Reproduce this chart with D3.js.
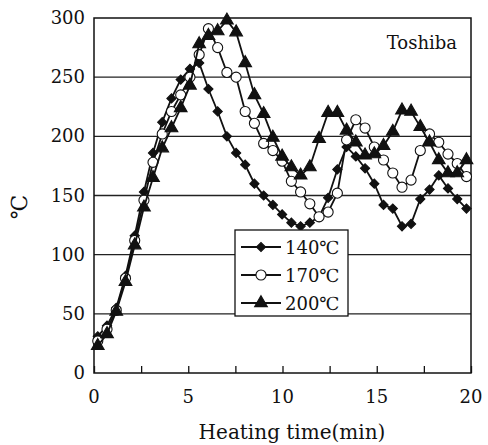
<!DOCTYPE html>
<html>
<head>
<meta charset="utf-8">
<script src="https://cdn.jsdelivr.net/npm/d3@7"></script>
<style>
  body { margin: 0; background: #fff; }
  svg { display: block; }
  svg text { font-family: "DejaVu Serif", "Liberation Serif", serif; }
</style>
</head>
<body>
<div id="chart"></div>
<script>
// sampling times (min)
const times = [0.2, 0.69, 1.18, 1.67, 2.16, 2.65, 3.13, 3.62, 4.11, 4.6, 5.09, 5.58, 6.07, 6.56, 7.05, 7.54, 8.02, 8.51, 9.0, 9.49,
  9.98, 10.47, 10.96, 11.45, 11.94, 12.42, 12.91, 13.4, 13.89, 14.38, 14.87, 15.36, 15.85, 16.34, 16.82, 17.31, 17.8, 18.29, 18.78, 19.27, 19.76];

const temp140 = [31, 40, 55, 82, 116, 153, 186, 212, 232, 248, 257, 262, 240, 221, 200, 186, 176, 160, 150, 142,
  134, 127, 124, 127, 132, 148, 172, 191, 183, 173, 160, 142, 139, 124, 126, 147, 155, 167, 156, 147, 139];
const temp170 = [27, 37, 53, 80, 112, 146, 178, 202, 221, 235, 250, 269, 291, 275, 254, 250, 221, 211, 194, 188,
  179, 162, 153, 143, 132, 136, 152, 197, 214, 207, 191, 180, 169, 157, 163, 188, 202, 195, 185, 177, 166];
const temp200 = [23, 33, 52, 77, 108, 140, 165, 190, 207, 224, 243, 278, 285, 289, 298, 288, 262, 235, 219, 199,
  183, 174, 167, 174, 198, 220, 220, 205, 195, 184, 185, 192, 204, 222, 221, 208, 195, 180, 169, 169, 180];

const seriesNames = ["140℃", "170℃", "200℃"];
const xTicks = [0, 5, 10, 15, 20];
const xMinorTicks = [2.5, 7.5, 12.5, 17.5];
const yTicks = [0, 50, 100, 150, 200, 250, 300];

const width = 488, height = 445;

const svg = d3.select("#chart").append("svg")
  .attr("width", width).attr("height", height);

const x = d3.scaleLinear().domain([0, 20]).range([94, 471]);
const y = d3.scaleLinear().domain([0, 300]).range([373, 18]);

// gridlines
svg.append("g").selectAll("line").data(yTicks.filter(d => d > 0 && d < 300)).join("line")
  .attr("x1", x(0)).attr("x2", x(20))
  .attr("y1", d => y(d)).attr("y2", d => y(d))
  .attr("stroke", "#222").attr("stroke-width", 1.3);

// frame
svg.append("rect")
  .attr("x", x(0)).attr("y", y(300))
  .attr("width", x(20) - x(0)).attr("height", y(0) - y(300))
  .attr("fill", "none").attr("stroke", "#111").attr("stroke-width", 1.5);

// x axis ticks pointing inward
const xAxis = d3.axisBottom(x).tickValues(xTicks.concat(xMinorTicks)).tickSize(-7).tickFormat("");
svg.append("g").attr("transform", `translate(0,${y(0)})`).call(xAxis)
  .call(g => g.select(".domain").remove())
  .call(g => g.selectAll("line").attr("stroke", "#111").attr("stroke-width", 1.3));

// tick labels
svg.append("g").selectAll("text").data(xTicks).join("text")
  .attr("x", d => x(d)).attr("y", 403)
  .attr("text-anchor", "middle").attr("font-size", 18).attr("fill", "#111")
  .text(d => d);

svg.append("g").selectAll("text").data(yTicks).join("text")
  .attr("x", 85).attr("y", d => y(d) + 6)
  .attr("text-anchor", "end").attr("font-size", 18).attr("fill", "#111")
  .text(d => d);

svg.append("text")
  .attr("x", 292).attr("y", 439)
  .attr("text-anchor", "middle").attr("font-size", 20).attr("fill", "#111")
  .text("Heating time(min)");

svg.append("text")
  .attr("transform", "translate(27,207) rotate(-90)")
  .attr("text-anchor", "middle").attr("font-size", 22).attr("fill", "#111")
  .text("℃");

svg.append("text")
  .attr("x", 457).attr("y", 49)
  .attr("text-anchor", "end").attr("font-size", 18).attr("fill", "#111")
  .text("Toshiba");

// series
const symbols = [
  { type: d3.symbolSquare, size: 42, rot: 45, fill: "#111" },
  { type: d3.symbolCircle, size: 80, rot: 0, fill: "#fff" },
  { type: d3.symbolTriangle, size: 70, rot: 0, fill: "#111" }
];
const allSeries = [temp140, temp170, temp200];

const line = d3.line().x(d => x(d[0])).y(d => y(d[1]));

allSeries.forEach((vals, i) => {
  const pts = times.map((t, j) => [t, vals[j]]);
  const g = svg.append("g");
  g.append("path").datum(pts)
    .attr("d", line)
    .attr("fill", "none").attr("stroke", "#111").attr("stroke-width", 1.8);
  const s = symbols[i];
  g.selectAll("path.m").data(pts).join("path")
    .attr("class", "m")
    .attr("d", d3.symbol().type(s.type).size(s.size))
    .attr("transform", d => `translate(${x(d[0])},${y(d[1])}) rotate(${s.rot})`)
    .attr("fill", s.fill).attr("stroke", "#111").attr("stroke-width", 1.1);
});

// legend
const legend = svg.append("g");
legend.append("rect")
  .attr("x", 235).attr("y", 230).attr("width", 113).attr("height", 86)
  .attr("fill", "#fff").attr("stroke", "#111").attr("stroke-width", 1.3);
seriesNames.forEach((name, i) => {
  const ly = 247 + i * 28;
  legend.append("line")
    .attr("x1", 241).attr("x2", 281).attr("y1", ly).attr("y2", ly)
    .attr("stroke", "#111").attr("stroke-width", 1.8);
  const s = symbols[i];
  legend.append("path")
    .attr("d", d3.symbol().type(s.type).size(s.size))
    .attr("transform", `translate(261,${ly}) rotate(${s.rot})`)
    .attr("fill", s.fill).attr("stroke", "#111").attr("stroke-width", 1.1);
  legend.append("text")
    .attr("x", 285).attr("y", ly + 7)
    .attr("font-size", 18).attr("fill", "#111")
    .text(name);
});
</script>
</body>
</html>
